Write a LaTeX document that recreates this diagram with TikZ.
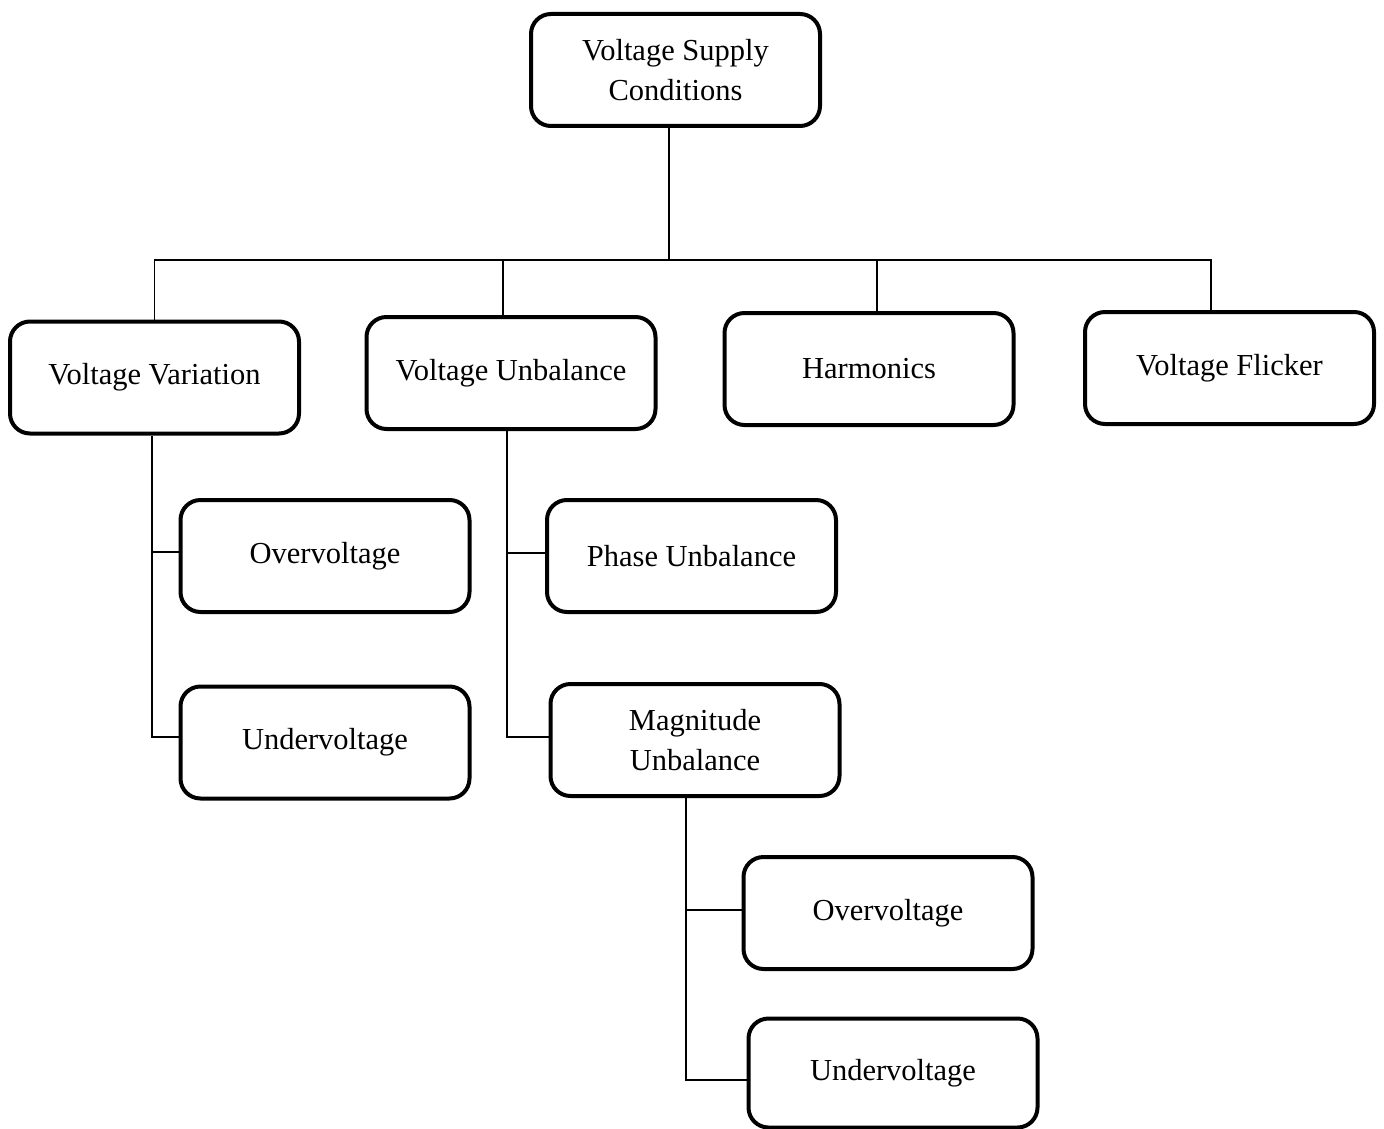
\documentclass[tikz,border=0pt]{standalone}
\usepackage{fontspec}
\setmainfont{Liberation Serif}
\begin{document}
\begin{tikzpicture}[x=1pt,y=-1pt,
  box/.style={draw=black, line width=4pt, rounded corners=20pt, fill=white,
    minimum width=289pt, minimum height=112pt, align=center, inner sep=0pt,
    font=\fontsize{30.5}{40}\selectfont},
  conn/.style={draw=black, line width=1.8pt}]
\useasboundingbox[fill=white] (0,0) rectangle (1384,1129);
\node[box] (root) at (675.5,70) {Voltage Supply\\Conditions};
\node[box] (vv) at (154.5,377.5) {Voltage Variation};
\node[box] (vu) at (511,373) {Voltage Unbalance};
\node[box] (ha) at (869,369) {Harmonics};
\node[box] (vf) at (1229.5,368) {Voltage Flicker};
\node[box] (ov1) at (325,556) {Overvoltage};
\node[box] (uv1) at (325,742.5) {Undervoltage};
\node[box] (pu) at (691.5,556) {Phase Unbalance};
\node[box] (mu) at (695,740) {Magnitude\\Unbalance};
\node[box] (ov2) at (888,913) {Overvoltage};
\node[box, minimum height=109pt] (uv2) at (893,1073) {Undervoltage};
% top level
\coordinate (rootb) at ([xshift=-6.5pt]root.south);
\coordinate (bus) at (rootb |- 0,260);
\draw[conn] (rootb) -- (bus);
\draw[conn] (vv.north) |- (bus);
\draw[conn] ([xshift=-18.5pt]vf.north) |- (bus);
\draw[conn] ([xshift=-8pt]vu.north) |- (bus);
\draw[conn] ([xshift=8pt]ha.north) |- (bus);
% voltage variation children
\coordinate (vvb) at ([xshift=-2.5pt]vv.south);
\draw[conn] (vvb) |- ([yshift=5.5pt]uv1.west);
\draw[conn] ([yshift=4pt]ov1.west) -- ([yshift=4pt]ov1.west -| vvb);
% voltage unbalance children
\coordinate (vub) at ([xshift=-4pt]vu.south);
\draw[conn] (vub) |- ([yshift=3pt]mu.west);
\draw[conn] ([yshift=3pt]pu.west) -- ([yshift=3pt]pu.west -| vub);
% magnitude unbalance children
\coordinate (mub) at ([xshift=-9pt]mu.south);
\draw[conn] (mub) |- ([yshift=-7pt]uv2.west);
\draw[conn] ([yshift=3pt]ov2.west) -- ([yshift=3pt]ov2.west -| mub);
\end{tikzpicture}
\end{document}
